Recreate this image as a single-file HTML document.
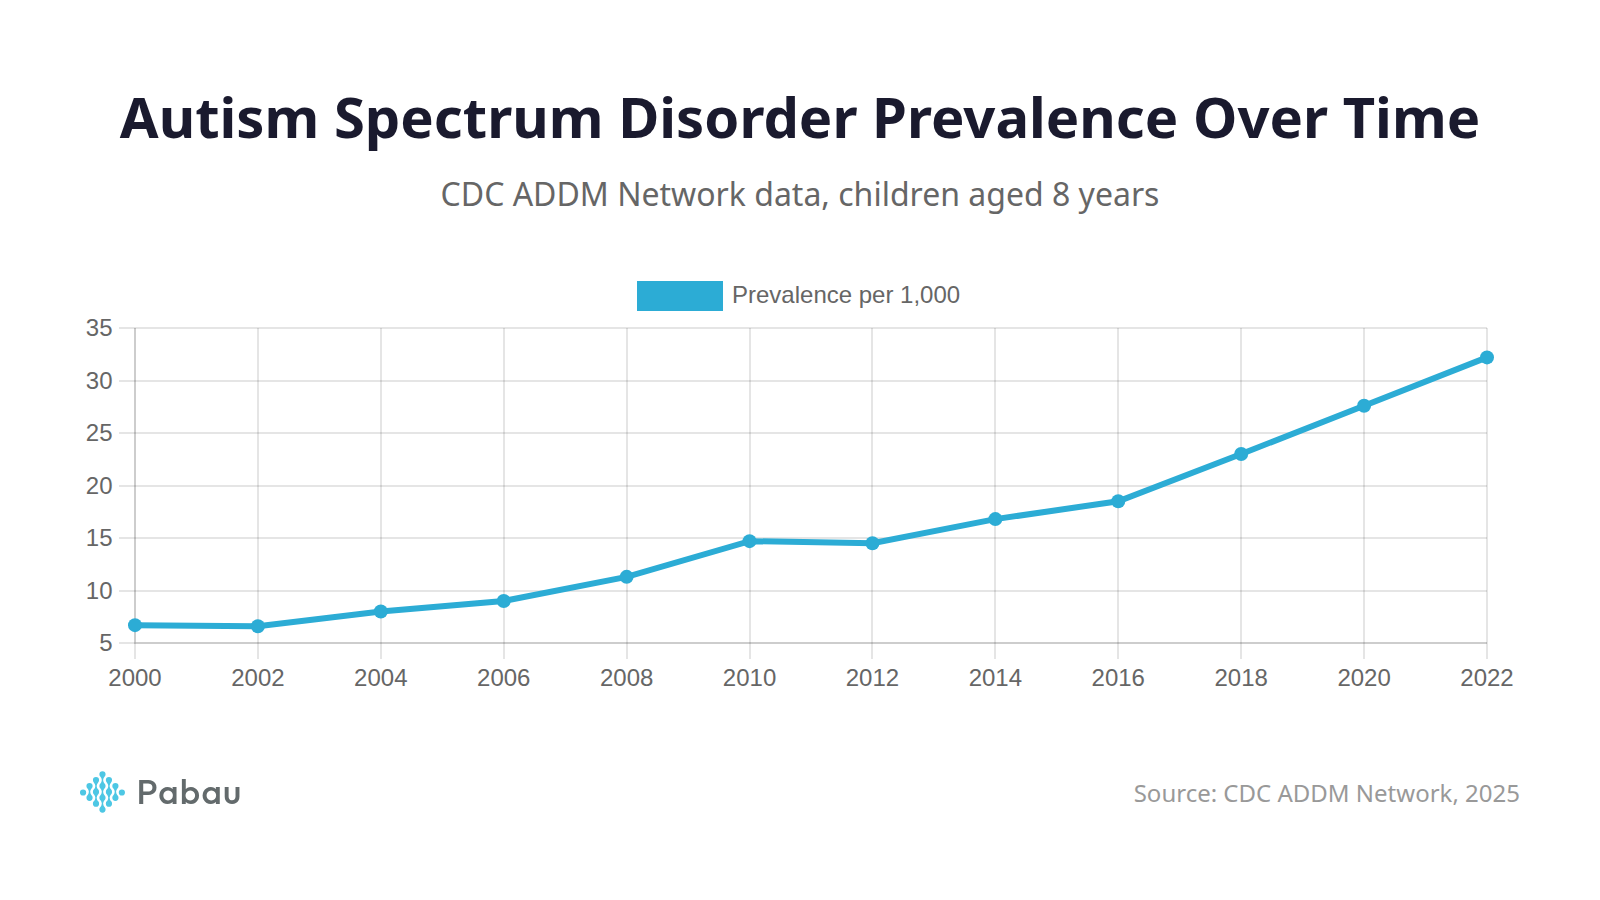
<!DOCTYPE html>
<html lang="en">
<head>
<meta charset="utf-8">
<title>Autism Spectrum Disorder Prevalence Over Time</title>
<style>
html,body{margin:0;padding:0;background:#fff;}
body{width:1600px;height:900px;overflow:hidden;position:relative;}
svg{position:absolute;left:0;top:0;display:block;}
.ttl{font-family:"Noto Sans","Liberation Sans",sans-serif;font-weight:700;font-size:56.17px;fill:#1a1a2e;}
.sub{font-family:"Noto Sans","Liberation Sans",sans-serif;font-weight:400;font-size:32px;fill:#666;}
.src{font-family:"Noto Sans","Liberation Sans",sans-serif;font-weight:400;font-size:24px;fill:#999;}
.tk{font-family:"Liberation Sans",Arial,Helvetica,sans-serif;font-size:24px;fill:#666;}
.logo{font-family:"Outfit","Liberation Sans",sans-serif;font-weight:540;font-size:34.3px;fill:#636b6c;}
</style>
</head>
<body>
<svg width="1600" height="900" viewBox="0 0 1600 900">
<text x="800" y="138" text-anchor="middle" class="ttl" textLength="1360.4" lengthAdjust="spacingAndGlyphs">Autism Spectrum Disorder Prevalence Over Time</text>
<text x="800" y="206" text-anchor="middle" class="sub" textLength="718.9" lengthAdjust="spacingAndGlyphs">CDC ADDM Network data, children aged 8 years</text>
<defs><filter id="soft" x="-5%" y="-20%" width="110%" height="140%"><feGaussianBlur stdDeviation="0.45"/></filter></defs>
<g id="chart">
<rect x="119" y="642" width="1368" height="2" fill="rgba(0,0,0,0.1)"/>
<rect x="119" y="590" width="1368" height="2" fill="rgba(0,0,0,0.1)"/>
<rect x="119" y="537" width="1368" height="2" fill="rgba(0,0,0,0.1)"/>
<rect x="119" y="485" width="1368" height="2" fill="rgba(0,0,0,0.1)"/>
<rect x="119" y="432" width="1368" height="2" fill="rgba(0,0,0,0.1)"/>
<rect x="119" y="380" width="1368" height="2" fill="rgba(0,0,0,0.1)"/>
<rect x="119" y="327" width="1368" height="2" fill="rgba(0,0,0,0.1)"/>
<rect x="134" y="328" width="2" height="331" fill="rgba(0,0,0,0.1)"/>
<rect x="257" y="328" width="2" height="331" fill="rgba(0,0,0,0.1)"/>
<rect x="380" y="328" width="2" height="331" fill="rgba(0,0,0,0.1)"/>
<rect x="503" y="328" width="2" height="331" fill="rgba(0,0,0,0.1)"/>
<rect x="626" y="328" width="2" height="331" fill="rgba(0,0,0,0.1)"/>
<rect x="749" y="328" width="2" height="331" fill="rgba(0,0,0,0.1)"/>
<rect x="871" y="328" width="2" height="331" fill="rgba(0,0,0,0.1)"/>
<rect x="994" y="328" width="2" height="331" fill="rgba(0,0,0,0.1)"/>
<rect x="1117" y="328" width="2" height="331" fill="rgba(0,0,0,0.1)"/>
<rect x="1240" y="328" width="2" height="331" fill="rgba(0,0,0,0.1)"/>
<rect x="1363" y="328" width="2" height="331" fill="rgba(0,0,0,0.1)"/>
<rect x="1486" y="328" width="2" height="331" fill="rgba(0,0,0,0.1)"/>
<rect x="134" y="328" width="2" height="316" fill="rgba(0,0,0,0.1)"/>
<rect x="136" y="642" width="1351" height="2" fill="rgba(0,0,0,0.1)"/>
<text x="112.5" y="650.50" text-anchor="end" class="tk">5</text>
<text x="112.5" y="598.50" text-anchor="end" class="tk">10</text>
<text x="112.5" y="545.50" text-anchor="end" class="tk">15</text>
<text x="112.5" y="493.50" text-anchor="end" class="tk">20</text>
<text x="112.5" y="440.50" text-anchor="end" class="tk">25</text>
<text x="112.5" y="388.50" text-anchor="end" class="tk">30</text>
<text x="112.5" y="335.50" text-anchor="end" class="tk">35</text>
<text x="135.00" y="686.3" text-anchor="middle" class="tk">2000</text>
<text x="257.91" y="686.3" text-anchor="middle" class="tk">2002</text>
<text x="380.82" y="686.3" text-anchor="middle" class="tk">2004</text>
<text x="503.73" y="686.3" text-anchor="middle" class="tk">2006</text>
<text x="626.64" y="686.3" text-anchor="middle" class="tk">2008</text>
<text x="749.55" y="686.3" text-anchor="middle" class="tk">2010</text>
<text x="872.45" y="686.3" text-anchor="middle" class="tk">2012</text>
<text x="995.36" y="686.3" text-anchor="middle" class="tk">2014</text>
<text x="1118.27" y="686.3" text-anchor="middle" class="tk">2016</text>
<text x="1241.18" y="686.3" text-anchor="middle" class="tk">2018</text>
<text x="1364.09" y="686.3" text-anchor="middle" class="tk">2020</text>
<text x="1487.00" y="686.3" text-anchor="middle" class="tk">2022</text>
<polyline points="135.00,625.15 257.91,626.20 380.82,611.50 503.73,601.00 626.64,576.85 749.55,541.15 872.45,543.25 995.36,519.10 1118.27,501.25 1241.18,454.00 1364.09,405.70 1487.00,357.40" fill="none" stroke="#2cacd5" stroke-width="6" stroke-linejoin="miter" stroke-linecap="butt"/>
<circle cx="135.00" cy="625.15" r="7" fill="#2cacd5"/>
<circle cx="257.91" cy="626.20" r="7" fill="#2cacd5"/>
<circle cx="380.82" cy="611.50" r="7" fill="#2cacd5"/>
<circle cx="503.73" cy="601.00" r="7" fill="#2cacd5"/>
<circle cx="626.64" cy="576.85" r="7" fill="#2cacd5"/>
<circle cx="749.55" cy="541.15" r="7" fill="#2cacd5"/>
<circle cx="872.45" cy="543.25" r="7" fill="#2cacd5"/>
<circle cx="995.36" cy="519.10" r="7" fill="#2cacd5"/>
<circle cx="1118.27" cy="501.25" r="7" fill="#2cacd5"/>
<circle cx="1241.18" cy="454.00" r="7" fill="#2cacd5"/>
<circle cx="1364.09" cy="405.70" r="7" fill="#2cacd5"/>
<circle cx="1487.00" cy="357.40" r="7" fill="#2cacd5"/>
<rect x="637" y="281" width="86" height="30" fill="#2cacd5"/>
<text x="732" y="303" class="tk">Prevalence per 1,000</text>
</g>
<g id="logo" filter="url(#soft)">
<path d="M79.96 792.50a3.1 3.1 0 1 0 6.20 0a3.1 3.1 0 1 0 -6.20 0zM86.43 786.01a3.1 3.1 0 1 0 6.20 0a3.1 3.1 0 1 0 -6.20 0zM87.19 788.04A5.88 5.88 0 0 1 87.19 795.76L91.87 795.76A5.88 5.88 0 0 1 91.87 788.04zM86.43 797.79a3.1 3.1 0 1 0 6.20 0a3.1 3.1 0 1 0 -6.20 0zM92.90 780.12a3.1 3.1 0 1 0 6.20 0a3.1 3.1 0 1 0 -6.20 0zM93.66 782.15A5.88 5.88 0 0 1 93.66 789.87L98.34 789.87A5.88 5.88 0 0 1 98.34 782.15zM92.90 791.90a3.1 3.1 0 1 0 6.20 0a3.1 3.1 0 1 0 -6.20 0zM93.66 793.93A5.88 5.88 0 0 1 93.66 801.65L98.34 801.65A5.88 5.88 0 0 1 98.34 793.93zM92.90 803.68a3.1 3.1 0 1 0 6.20 0a3.1 3.1 0 1 0 -6.20 0zM99.37 774.23a3.1 3.1 0 1 0 6.20 0a3.1 3.1 0 1 0 -6.20 0zM100.13 776.26A5.88 5.88 0 0 1 100.13 783.98L104.81 783.98A5.88 5.88 0 0 1 104.81 776.26zM99.37 786.01a3.1 3.1 0 1 0 6.20 0a3.1 3.1 0 1 0 -6.20 0zM100.13 788.04A5.88 5.88 0 0 1 100.13 795.76L104.81 795.76A5.88 5.88 0 0 1 104.81 788.04zM99.37 797.79a3.1 3.1 0 1 0 6.20 0a3.1 3.1 0 1 0 -6.20 0zM100.13 799.82A5.88 5.88 0 0 1 100.13 807.54L104.81 807.54A5.88 5.88 0 0 1 104.81 799.82zM99.37 809.57a3.1 3.1 0 1 0 6.20 0a3.1 3.1 0 1 0 -6.20 0zM105.84 780.12a3.1 3.1 0 1 0 6.20 0a3.1 3.1 0 1 0 -6.20 0zM106.60 782.15A5.88 5.88 0 0 1 106.60 789.87L111.28 789.87A5.88 5.88 0 0 1 111.28 782.15zM105.84 791.90a3.1 3.1 0 1 0 6.20 0a3.1 3.1 0 1 0 -6.20 0zM106.60 793.93A5.88 5.88 0 0 1 106.60 801.65L111.28 801.65A5.88 5.88 0 0 1 111.28 793.93zM105.84 803.68a3.1 3.1 0 1 0 6.20 0a3.1 3.1 0 1 0 -6.20 0zM112.31 786.01a3.1 3.1 0 1 0 6.20 0a3.1 3.1 0 1 0 -6.20 0zM113.07 788.04A5.88 5.88 0 0 1 113.07 795.76L117.75 795.76A5.88 5.88 0 0 1 117.75 788.04zM112.31 797.79a3.1 3.1 0 1 0 6.20 0a3.1 3.1 0 1 0 -6.20 0zM118.78 792.50a3.1 3.1 0 1 0 6.20 0a3.1 3.1 0 1 0 -6.20 0z" fill="#4ec7e4"/>
<text transform="translate(136.6 804) scale(1.025 1)" x="0" y="0" class="logo" textLength="102.1" lengthAdjust="spacing">Pabau</text>
</g>
<text x="1520" y="802" text-anchor="end" class="src" textLength="386.3" lengthAdjust="spacingAndGlyphs">Source: CDC ADDM Network, 2025</text>
</svg>
</body>
</html>
